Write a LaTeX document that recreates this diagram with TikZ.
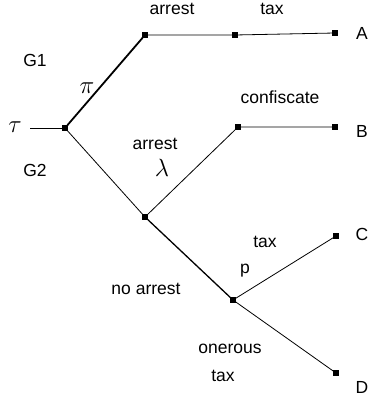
\documentclass[tikz,border=0pt]{standalone}
\usepackage{fontspec}
\setmainfont{Liberation Sans}
\usetikzlibrary{positioning}
\tikzset{
  move/.style={
    fill=black,
    minimum size=5.5pt,
    inner sep=0pt,
    outer sep=0pt
  },
  branch/.style={
    draw=black,
    line width=0.8pt
  },
  heavy/.style={
    draw=black,
    line width=1.8pt
  },
  lbl/.style={
    text=black,
    inner sep=0pt,
    font=\fontsize{17.5}{20}\selectfont
  },
  hand/.style={
    text=black,
    inner sep=0pt,
    font=\fontsize{24}{26}\selectfont
  }
}

\begin{document}
\begin{tikzpicture}[x=1pt,y=-1pt]
  \useasboundingbox (0,0) rectangle (370,403);

  % --- Moves ---
  \coordinate (start) at (30,128);
  \node[move] (root) at (65,128) {};
  \node[move] (g1) at (145,35) {};
  \node[move] (g1tax) at (235,35) {};
  \node[move] (endA) at (335,33) {};
  \node[move] (g2) at (145,217) {};
  \node[move] (conf) at (238,127) {};
  \node[move] (endB) at (335,127) {};
  \node[move] (noarr) at (233,300) {};
  \node[move] (endC) at (336,236) {};
  \node[move] (endD) at (336,373) {};

  % --- Branches ---
  \draw[branch] (start) -- (root);
  \draw[heavy] (root) -- (g1);
  \draw[branch] (g1) -- (g1tax) -- (endA);
  \draw[branch] (root) -- (g2);
  \draw[branch] (g2) -- (conf) -- (endB);
  \draw[branch, line width=1.3pt] (g2) -- (noarr);
  \draw[branch] (noarr) -- (endC);
  \draw[branch] (noarr) -- (endD);

  % --- Labels ---
  \node[hand] (tau) at (15,127) {$\tau$};
  \node[lbl] (lg1) at (35,60) {G1};
  \node[hand] (pi) at (87,88) {$\pi$};
  \node[lbl] (lg2) at (35,170) {G2};
  \node[lbl] (larr1) at (172,9) {arrest};
  \node[lbl] (ltax1) at (272,9) {tax};
  \node[lbl] (lconf) at (280,97) {confiscate};
  \node[lbl] (larr2) at (155,144) {arrest};
  \node[hand] (lam) at (162,168) {$\lambda$};
  \node[lbl] (lnoarr) at (146,289) {no arrest};
  \node[lbl] (ltax2) at (265,242) {tax};
  \node[lbl] (lp) at (245,271) {p};
  \node[lbl] (loner) at (230,349) {onerous};
  \node[lbl] (ltax3) at (223,376) {tax};
  \node[lbl] (la) at (362,33) {A};
  \node[lbl] (lb) at (362,131) {B};
  \node[lbl] (lc) at (362,234) {C};
  \node[lbl] (ld) at (362,387) {D};
\end{tikzpicture}
\end{document}
